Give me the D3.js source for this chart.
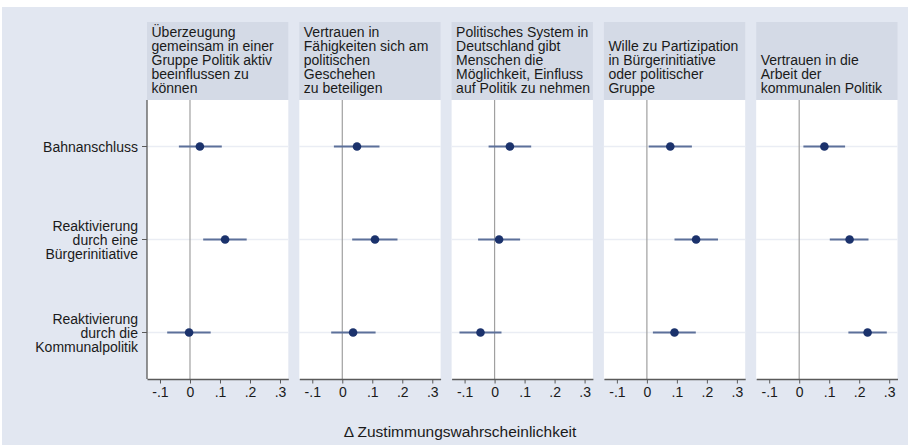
<!DOCTYPE html>
<html>
<head>
<meta charset="utf-8">
<script src="https://cdn.jsdelivr.net/npm/d3@7"></script>
<style>
  html, body { margin: 0; padding: 0; background: #fff; }
  svg { display: block; font-family: "Liberation Sans", Arial, sans-serif; }
</style>
</head>
<body>
<div id="chart"></div>
<script>
const W = 908, H = 445;

// panel headers (one array of lines per panel)
const outcomes = [
  ['Überzeugung', 'gemeinsam in einer', 'Gruppe Politik aktiv', 'beeinflussen zu', 'können'],
  ['Vertrauen in', 'Fähigkeiten sich am', 'politischen', 'Geschehen', 'zu beteiligen'],
  ['Politisches System in', 'Deutschland gibt', 'Menschen die', 'Möglichkeit, Einfluss', 'auf Politik zu nehmen'],
  ['Wille zu Partizipation', 'in Bürgerinitiative', 'oder politischer', 'Gruppe'],
  ['Vertrauen in die', 'Arbeit der', 'kommunalen Politik'],
];

// row labels
const treatments = [
  ['Bahnanschluss'],
  ['Reaktivierung', 'durch eine', 'Bürgerinitiative'],
  ['Reaktivierung', 'durch die', 'Kommunalpolitik'],
];

// point estimates, per panel, per row
const estimates = [
  [0.033, 0.117, -0.003],
  [0.049, 0.109, 0.036],
  [0.051, 0.015, -0.047],
  [0.078, 0.164, 0.092],
  [0.084, 0.168, 0.228],
];
const lower = [
  [-0.037, 0.044, -0.076],
  [-0.028, 0.033, -0.037],
  [-0.020, -0.055, -0.117],
  [0.006, 0.092, 0.020],
  [0.014, 0.102, 0.164],
];
const upper = [
  [0.106, 0.189, 0.069],
  [0.124, 0.184, 0.111],
  [0.122, 0.085, 0.023],
  [0.150, 0.237, 0.163],
  [0.153, 0.231, 0.292],
];

const xTicks = [-0.1, 0, 0.1, 0.2, 0.3];
const xTitle = 'Δ Zustimmungswahrscheinlichkeit';

// stata-style labels: -.1 0 .1 .2 .3
const fmt = (d) => (d === 0 ? '0' : (d < 0 ? '-' : '') + '.' + Math.round(Math.abs(d) * 10));

const bg = '#e2e7f1';
const headFill = '#d4dae6';
const dotColor = '#1b326c';
const ciColor = '#5c709a';

const panelLeft = 147, panelW = 141.3, panelPitch = 152.3;
const headTop = 22, plotTop = 100, plotBottom = 379;

const svg = d3.select('#chart').append('svg').attr('width', W).attr('height', H);

svg.append('rect').attr('x', 2).attr('y', 7).attr('width', W - 2).attr('height', H - 7).attr('fill', bg);

const x = d3.scaleLinear().domain([-0.1433, 0.3277]).range([0, panelW]);
const y = d3.scaleLinear().domain([-0.5, 2.5]).range([plotTop, plotBottom]);

outcomes.forEach((lines, p) => {
  const g = svg.append('g').attr('transform', `translate(${panelLeft + p * panelPitch},0)`);

  // header
  g.append('rect')
    .attr('x', 0).attr('y', headTop)
    .attr('width', panelW).attr('height', plotTop - headTop)
    .attr('fill', headFill);
  const n = lines.length;
  g.append('g')
    .selectAll('text')
    .data(lines)
    .join('text')
    .attr('x', 4.5)
    .attr('y', (d, i) => 93.3 - (n - 1 - i) * 14)
    .attr('font-size', 14)
    .attr('fill', '#1a1a1a')
    .text((d) => d);

  // plot area
  g.append('rect')
    .attr('x', 0).attr('y', plotTop)
    .attr('width', panelW).attr('height', plotBottom - plotTop)
    .attr('fill', '#fff');

  // row grid lines
  g.selectAll('line.grid')
    .data(treatments)
    .join('line')
    .attr('class', 'grid')
    .attr('x1', 0).attr('x2', panelW)
    .attr('y1', (d, i) => y(i)).attr('y2', (d, i) => y(i))
    .attr('stroke', '#eaedf4')
    .attr('stroke-width', 1.5);

  // zero line
  g.append('line')
    .attr('x1', x(0)).attr('x2', x(0))
    .attr('y1', plotTop).attr('y2', plotBottom)
    .attr('stroke', '#a0a0a0')
    .attr('stroke-width', 1.2);

  // CIs
  g.selectAll('line.ci')
    .data(estimates[p])
    .join('line')
    .attr('class', 'ci')
    .attr('x1', (d, i) => x(lower[p][i]))
    .attr('x2', (d, i) => x(upper[p][i]))
    .attr('y1', (d, i) => y(i)).attr('y2', (d, i) => y(i))
    .attr('stroke', ciColor)
    .attr('stroke-width', 2.2);

  // points
  g.selectAll('circle')
    .data(estimates[p])
    .join('circle')
    .attr('cx', (d) => x(d))
    .attr('cy', (d, i) => y(i))
    .attr('r', 4.3)
    .attr('fill', dotColor);

  // x axis
  const ax = g.append('g')
    .attr('transform', `translate(0,${plotBottom})`)
    .call(d3.axisBottom(x).tickValues(xTicks).tickFormat(fmt).tickSize(4.5).tickPadding(4).tickSizeOuter(0));
  ax.select('.domain').attr('stroke', '#5a5a5a').attr('stroke-width', 1.3);
  ax.selectAll('.tick line').attr('stroke', '#5a5a5a');
  ax.selectAll('text')
    .attr('font-size', 14)
    .attr('font-family', '"Liberation Sans", Arial, sans-serif')
    .attr('fill', '#1a1a1a');
});

// y axis on first panel
const yAx = svg.append('g').attr('transform', `translate(${panelLeft},0)`);
yAx.append('line')
  .attr('x1', 0).attr('x2', 0)
  .attr('y1', plotTop).attr('y2', plotBottom)
  .attr('stroke', '#5a5a5a').attr('stroke-width', 1.3);
treatments.forEach((lines, i) => {
  yAx.append('line')
    .attr('x1', -5).attr('x2', 0)
    .attr('y1', y(i)).attr('y2', y(i))
    .attr('stroke', '#5a5a5a');
  const n = lines.length;
  yAx.append('g')
    .selectAll('text')
    .data(lines)
    .join('text')
    .attr('x', -9)
    .attr('y', (d, k) => y(i) + 5 + (k - (n - 1) / 2) * 14)
    .attr('text-anchor', 'end')
    .attr('font-size', 14)
    .attr('fill', '#1a1a1a')
    .text((d) => d);
});

// axis title
svg.append('text')
  .attr('x', 460)
  .attr('y', 437)
  .attr('text-anchor', 'middle')
  .attr('font-size', 15.5)
  .attr('fill', '#1a1a1a')
  .text(xTitle);
</script>
</body>
</html>
